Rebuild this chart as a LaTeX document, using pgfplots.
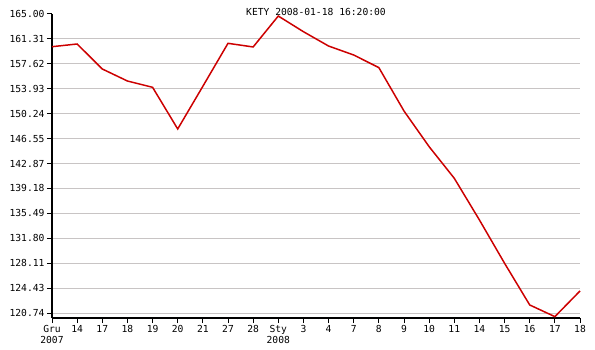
\documentclass[border=0pt]{standalone}
\usepackage{fontspec}
\setmonofont{DejaVu Sans Mono}
\usepackage{pgfplots}
\pgfplotsset{compat=1.18}
\definecolor{gridgray}{RGB}{200,196,196}
\definecolor{linered}{RGB}{204,0,0}
\begin{document}
\begin{tikzpicture}
\useasboundingbox (-52bp,-32bp) rectangle (543bp,318bp);
\begin{axis}[
  at={(0,0)}, anchor=south west,
  scale only axis,
  width=528bp, height=304bp,
  xmin=0, xmax=21,
  ymin=120.0, ymax=165.0,
  axis x line=bottom, axis y line=left,
  axis line style={line width=1.6pt, -},
  xtick={0,...,21},
  xticklabels={{Gru\\2007},14,17,18,19,20,21,27,28,{Sty\\2008},3,4,7,8,9,10,11,14,15,16,17,18},
  ytick={120.74,124.43,128.11,131.80,135.49,139.18,142.87,146.55,150.24,153.93,157.62,161.31},
  yticklabels={120.74,124.43,128.11,131.80,135.49,139.18,142.87,146.55,150.24,153.93,157.62,161.31},
  extra y ticks={165.00},
  extra y tick labels={165.00},
  extra y tick style={ymajorgrids=false},
  ymajorgrids,
  major grid style={gridgray, line width=1pt},
  tick style={black, line width=1pt},
  major tick length=5bp,
  tick align=outside,
  ticklabel style={font=\fontsize{9.7}{11.5}\ttfamily},
  xticklabel style={align=center, yshift=1.5bp},
  yticklabel style={xshift=1bp},
  clip=false,
]
\addplot[linered, line width=1.5pt] coordinates {
(0,160.16) (1,160.56) (2,156.86) (3,155.08) (4,154.15) (5,147.98)
(6,154.3) (7,160.66) (8,160.12) (9,164.70) (10,162.38) (11,160.26)
(12,158.93) (13,157.06) (14,150.64) (15,145.36) (16,140.68) (17,134.51)
(18,128.1) (19,121.93) (20,120.2) (21,124.0)
};
\node[anchor=base, font=\fontsize{9.7}{12}\ttfamily] at ([yshift=-2bp]rel axis cs:0.5,1) {KETY 2008-01-18 16:20:00};
\end{axis}
\end{tikzpicture}
\end{document}
